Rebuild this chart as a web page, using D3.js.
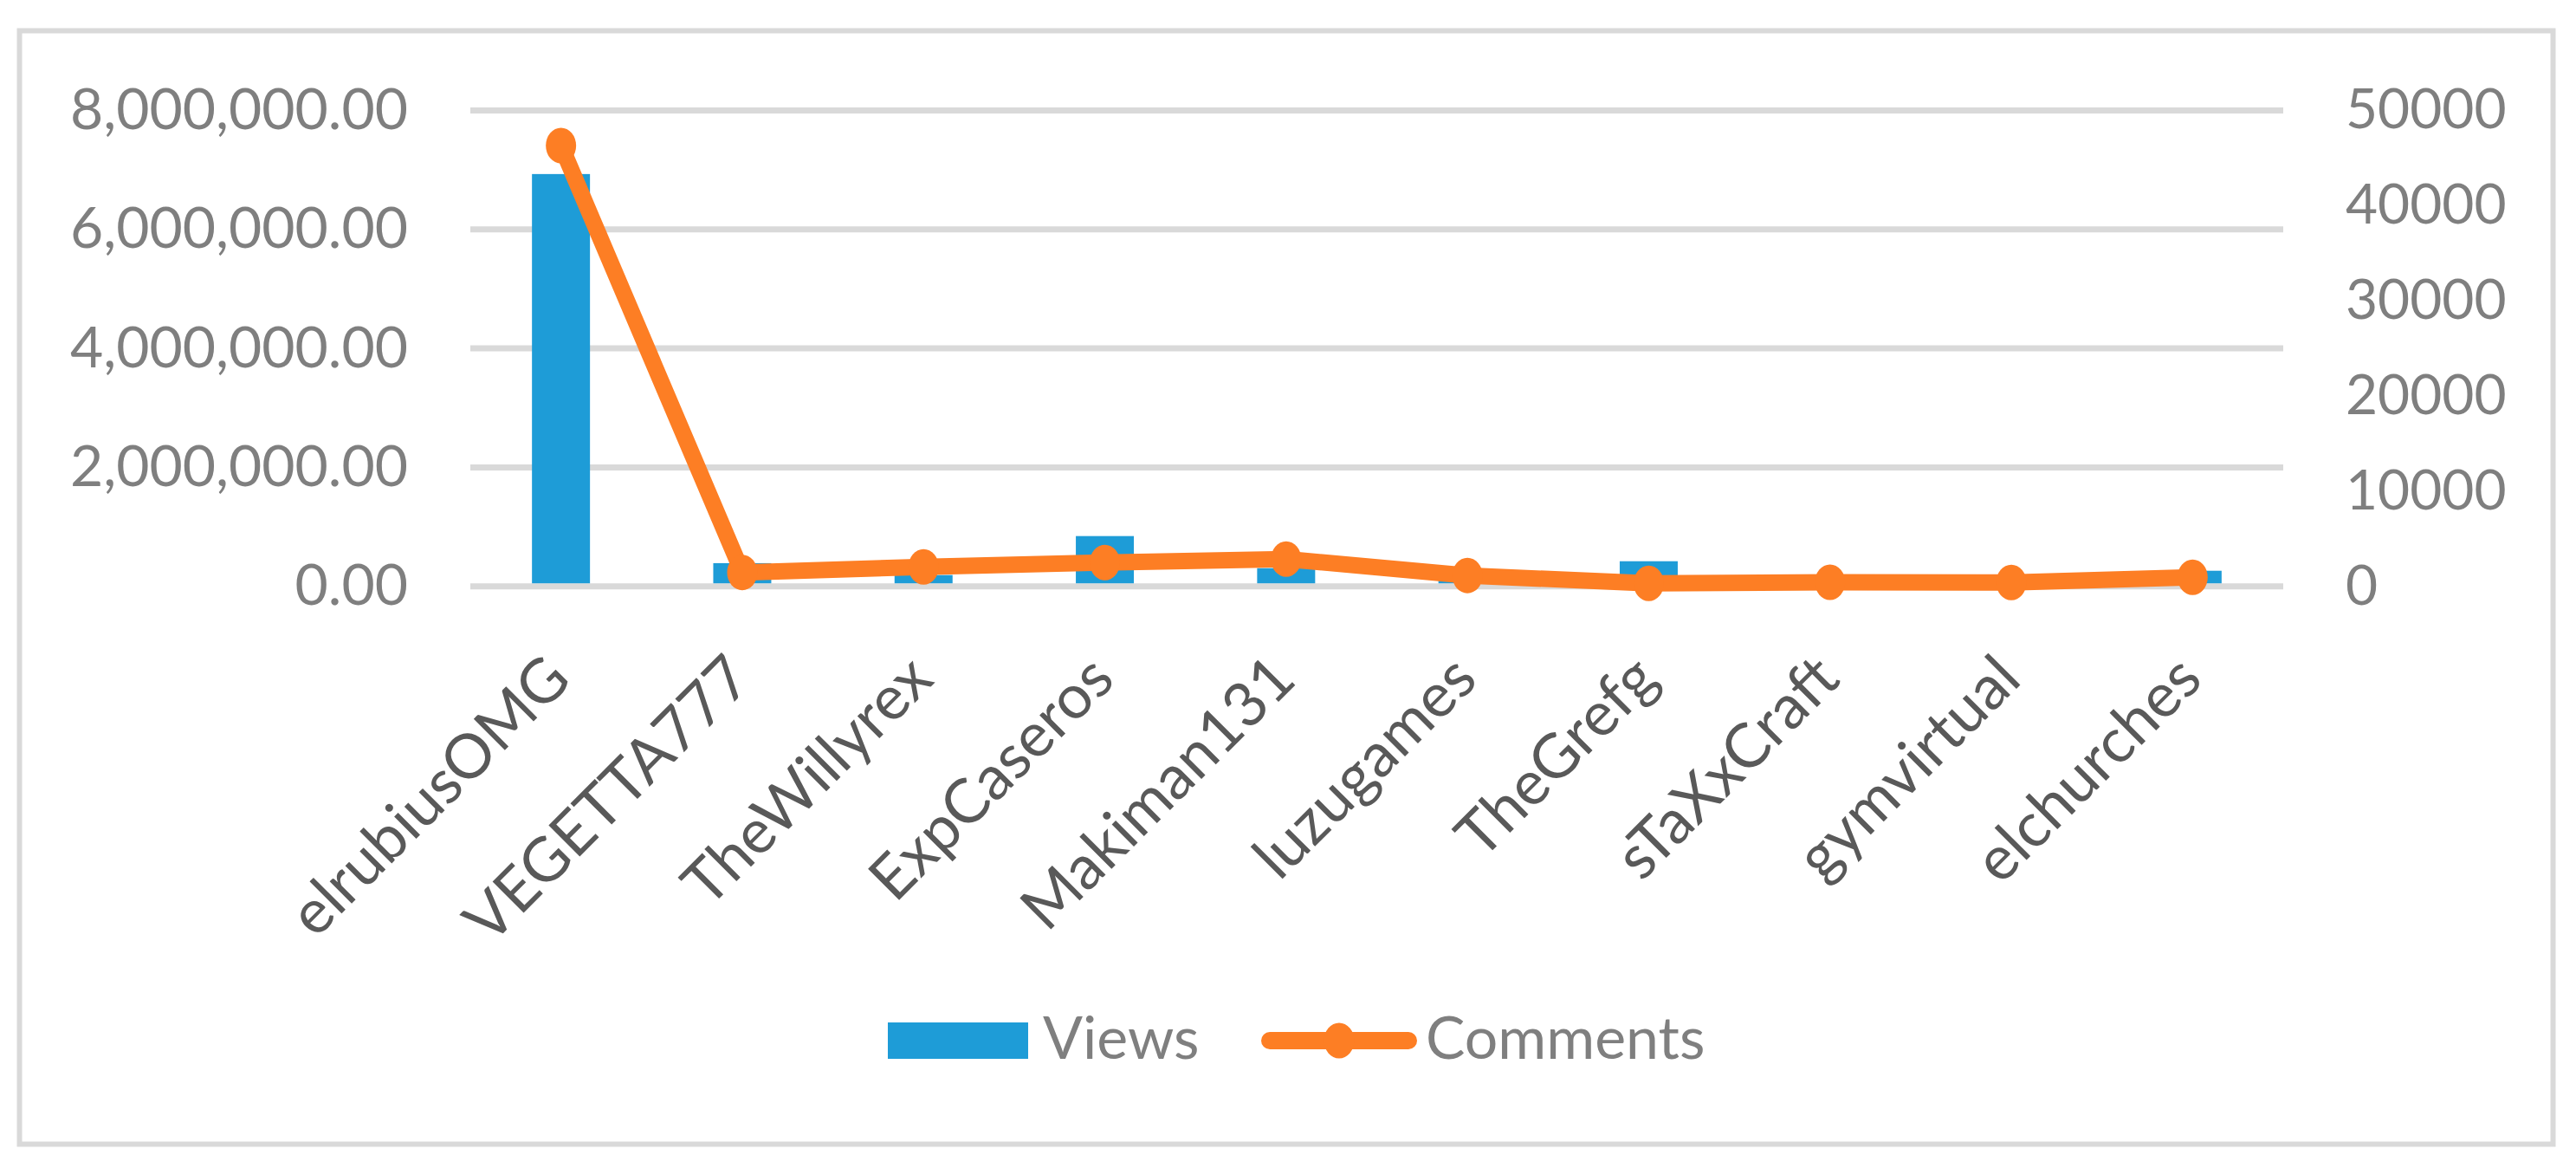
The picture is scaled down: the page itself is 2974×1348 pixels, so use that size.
<!DOCTYPE html>
<html>
<head>
<meta charset="utf-8">
<script src="https://cdn.jsdelivr.net/npm/d3@7"></script>
<style>
  html, body { margin: 0; padding: 0; background: #fff; }
  svg { display: block; }
</style>
</head>
<body>
<svg id="chart" width="2974" height="1348"></svg>
<script>
// ---- data ----
const categories = ["elrubiusOMG", "VEGETTA777", "TheWillyrex", "ExpCaseros", "Makiman131",
                    "luzugames", "TheGrefg", "sTaXxCraft", "gymvirtual", "elchurches"];
const views = [6930000, 390000, 190000, 845000, 306000, 100000, 422000, 150000, 130000, 262000];
const comments = [46300, 1460, 2040, 2500, 2860, 1140, 310, 430, 410, 950];
const leftTicks = [0, 2000000, 4000000, 6000000, 8000000];
const rightTicks = [0, 10000, 20000, 30000, 40000, 50000];
const seriesNames = ["Views", "Comments"];

// ---- styling ----
const BLUE = "#1E9CD7", ORANGE = "#FD7E24", GRID = "#D9D9D9";
const TICK_COLOR = "#7F7F7F", CAT_COLOR = "#595959";
const FONT = "Lato, 'Open Sans', sans-serif";

const svg = d3.select("#chart");
const plot = { left: 543, right: 2636, top: 127.4, bottom: 676.7 };

// outer frame
svg.append("rect")
  .attr("x", 22.5).attr("y", 35.5).attr("width", 2925).attr("height", 1285)
  .attr("fill", "#fff").attr("stroke", GRID).attr("stroke-width", 6);

const x = d3.scaleBand().domain(categories).range([plot.left, plot.right])
  .paddingInner(0.68).paddingOuter(0.34);
const y = d3.scaleLinear().domain([0, 8000000]).range([plot.bottom, plot.top]);
const y2 = d3.scaleLinear().domain([0, 50000]).range([plot.bottom, plot.top]);

const GRID_W = 7;
// gridlines
svg.append("g").selectAll("line").data(leftTicks).join("line")
  .attr("x1", plot.left).attr("x2", plot.right)
  .attr("y1", d => y(d)).attr("y2", d => y(d))
  .attr("stroke", GRID).attr("stroke-width", GRID_W);

// left axis
const gL = svg.append("g").attr("transform", `translate(${plot.left},0)`)
  .call(d3.axisLeft(y).tickValues(leftTicks).tickFormat(d3.format(",.2f")).tickSize(0).tickPadding(72));
// right axis
const gR = svg.append("g").attr("transform", `translate(${plot.right},0)`)
  .call(d3.axisRight(y2).tickValues(rightTicks).tickFormat(d3.format("d")).tickSize(0).tickPadding(72));
gL.select(".domain").remove();
gR.select(".domain").remove();
gL.selectAll("text").attr("fill", TICK_COLOR).style("font-family", FONT).style("font-size", "66px");
gR.selectAll("text").attr("fill", TICK_COLOR).style("font-family", FONT).style("font-size", "64px");

// bars
svg.append("g").selectAll("rect").data(categories).join("rect")
  .attr("x", d => x(d))
  .attr("width", x.bandwidth())
  .attr("y", (d, i) => y(views[i]))
  .attr("height", (d, i) => Math.max(0, y(0) - GRID_W / 2 - y(views[i])))
  .attr("fill", BLUE);

// line
const line = d3.line()
  .x((d, i) => x(categories[i]) + x.bandwidth() / 2)
  .y(d => y2(d));
svg.append("path").datum(comments)
  .attr("d", line).attr("fill", "none").attr("stroke", ORANGE)
  .attr("stroke-width", 19).attr("stroke-linejoin", "round").attr("stroke-linecap", "round");
svg.append("g").selectAll("ellipse").data(comments).join("ellipse")
  .attr("cx", (d, i) => x(categories[i]) + x.bandwidth() / 2)
  .attr("cy", d => y2(d))
  .attr("rx", 17.5).attr("ry", 20.5)
  .attr("fill", ORANGE);

// category labels
svg.append("g").selectAll("text").data(categories).join("text")
  .attr("transform", d => `translate(${x(d) + x.bandwidth() / 2 + 14},787) rotate(-45)`)
  .attr("text-anchor", "end")
  .attr("fill", CAT_COLOR)
  .style("font-family", FONT).style("font-size", "71px")
  .text(d => d);

// legend
const lg = svg.append("g");
lg.append("rect").attr("x", 1025).attr("y", 1180).attr("width", 162).attr("height", 42).attr("fill", BLUE);
lg.append("text").attr("x", 1204).attr("y", 1222).attr("fill", TICK_COLOR)
  .style("font-family", FONT).style("font-size", "68px").text(seriesNames[0]);
lg.append("line").attr("x1", 1466).attr("x2", 1626).attr("y1", 1201).attr("y2", 1201)
  .attr("stroke", ORANGE).attr("stroke-width", 20).attr("stroke-linecap", "round");
lg.append("ellipse").attr("cx", 1546).attr("cy", 1201).attr("rx", 17.5).attr("ry", 20.5).attr("fill", ORANGE);
lg.append("text").attr("x", 1646).attr("y", 1222).attr("fill", TICK_COLOR)
  .style("font-family", FONT).style("font-size", "68px").text(seriesNames[1]);
</script>
</body>
</html>
